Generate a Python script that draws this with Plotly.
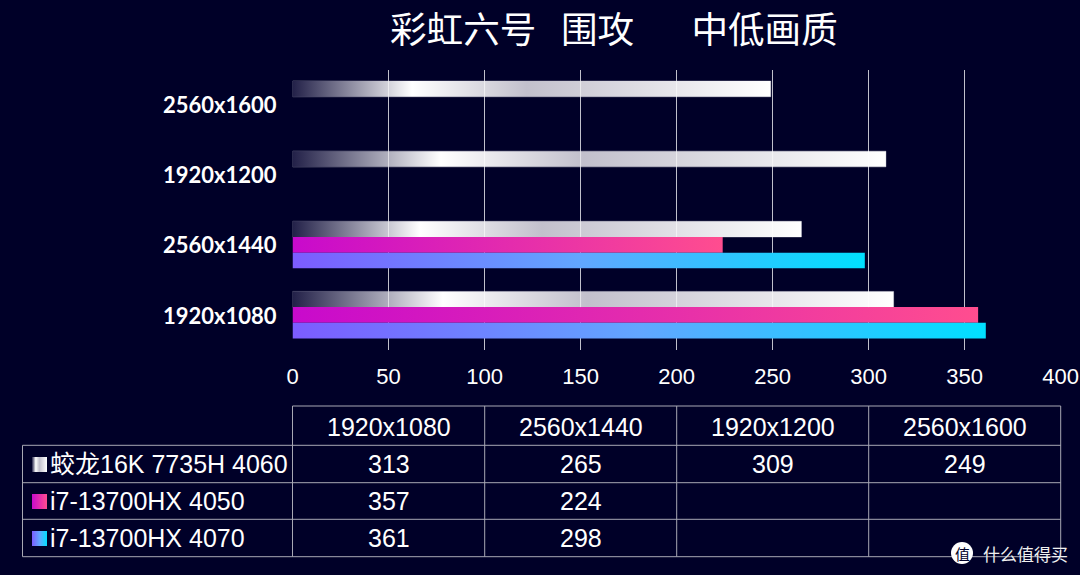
import plotly.graph_objects as go

BG = "#000028"
categories = ["1920x1080", "2560x1440", "1920x1200", "2560x1600"]
series_names = ["蛟龙16K 7735H 4060", "i7-13700HX 4050", "i7-13700HX 4070"]
values_a = [313, 265, 309, 249]
values_b = [357, 224, None, None]
values_c = [361, 298, None, None]
tick_vals = [0, 50, 100, 150, 200, 250, 300, 350, 400]
all_values = [values_a, values_b, values_c]

# gradient stops (fraction of the bar's length, colour)
stops_a = [(0, (34, 32, 72, 1)), (.25, (255, 255, 255, 1)), (.49, (194, 192, 204, 1)), (1, (255, 255, 255, 1))]
stops_b = [(0, (200, 10, 204, 1)), (1, (255, 77, 143, 1))]
stops_c = [(0, (124, 92, 255, 1)), (.5, (98, 166, 255, 1)), (1, (0, 224, 255, 1))]
all_stops = [stops_a, stops_b, stops_c]
SLOT = 0.2235
offsets = [SLOT * .5, -SLOT * .5, -SLOT * 1.5]


def rgba(c):
    return f"rgba({c[0]:.0f},{c[1]:.0f},{c[2]:.0f},{c[3]:.3f})"


def colour(stops, t):
    for (t0, c0), (t1, c1) in zip(stops, stops[1:]):
        if t <= t1:
            f = (t - t0) / (t1 - t0)
            return rgba([c0[i] + (c1[i] - c0[i]) * f for i in range(4)])
    return rgba(stops[-1][1])


fig = go.Figure()
for name, vals, stops, off in zip(series_names, all_values, all_stops, offsets):
    scale = [[t, rgba(c)] for t, c in stops]
    for pos, v in enumerate(vals):
        if v is None:
            continue
        # gradient body of the bar: a filled area spanning 0..value
        fig.add_trace(go.Scatter(x=[0, v, v, 0, 0],
                                 y=[pos + off, pos + off, pos + off + SLOT, pos + off + SLOT, pos + off],
                                 mode="lines", line=dict(width=0), fill="toself",
                                 fillgradient=dict(type="horizontal", colorscale=scale),
                                 showlegend=False, hoverinfo="skip"))
    # the value bar itself, as a thin outline over the gradient
    fig.add_trace(go.Bar(y=list(range(len(categories))), x=vals, orientation="h", offset=off, width=SLOT, name=name,
                         marker=dict(color="rgba(0,0,0,0)",
                                     line=dict(width=1, color="rgba(200,200,215,.45)" if stops is stops_a else "rgba(0,0,0,0)")),
                         showlegend=False))

TEXT = "Liberation Sans, Arial, sans-serif"
CJK = "Noto Sans CJK SC"
W, H = 1080, 575
fig.update_layout(
    width=W, height=H, autosize=False, margin=dict(l=0, r=0, t=0, b=0, pad=0, autoexpand=False),
    paper_bgcolor=BG, plot_bgcolor=BG, barmode="overlay", showlegend=False,
    xaxis=dict(domain=[292.5 / W, 1060.7 / W], range=[0, 400], tickvals=tick_vals, showgrid=True,
               gridcolor="#c0c0cc", gridwidth=1, zeroline=False, showline=False, ticks="",
               tickfont=dict(family=TEXT, size=22, color="#ffffff"), ticklabelstandoff=11),
    yaxis=dict(domain=[1 - 350 / H, 1 - 69.5 / H], range=[-.5, 3.5], tickmode="array",
               tickvals=[i - .014 for i in range(len(categories))], ticktext=categories, showgrid=False, zeroline=False,
               showline=False, ticks="", ticklabelstandoff=15,
               tickfont=dict(family="Lato, Liberation Sans, sans-serif", size=22, color="#ffffff", weight="bold")),
)

LINE = "#a8a8b4"
shapes, ann = [], []


def px(x):
    return x / W


def py(y):
    return 1 - y / H


def hline(x0, x1, y):
    shapes.append(dict(type="line", xref="paper", yref="paper", x0=px(x0), x1=px(x1), y0=py(y), y1=py(y),
                       line=dict(color=LINE, width=1)))


def vline(x, y0, y1):
    shapes.append(dict(type="line", xref="paper", yref="paper", x0=px(x), x1=px(x), y0=py(y0), y1=py(y1),
                       line=dict(color=LINE, width=1)))


def text(x, y, s, size=25, anchor="center", family=TEXT, color="#ffffff"):
    ann.append(dict(xref="paper", yref="paper", x=px(x), y=py(y), text=s, showarrow=False, xanchor=anchor,
                    yanchor="middle", font=dict(family=family, size=size, color=color)))


# gridlines show faintly through the pale bars
for pos, v in enumerate(values_a):
    for t in tick_vals:
        if 0 < t < v:
            shapes.append(dict(type="line", xref="x", yref="y", x0=t, x1=t, y0=pos + offsets[0], y1=pos + offsets[0] + SLOT,
                               line=dict(color="rgba(255,255,255,.6)", width=1)))

col_x = [292.5, 484.7, 676.7, 868.7, 1060.7]
row_y = [406, 445.3, 482.7, 519.3, 556.7]
hline(col_x[0], col_x[-1], row_y[0])
for y in row_y[1:]:
    hline(22.5, col_x[-1], y)
vline(22.5, row_y[1], row_y[-1])
for x in col_x:
    vline(x, row_y[0], row_y[-1])

for i, cat in enumerate(categories):
    cx = (col_x[i] + col_x[i + 1]) / 2
    text(cx, (row_y[0] + row_y[1]) / 2 + 1, cat)
    for r, vals in enumerate(all_values):
        if vals[i] is not None:
            text(cx, (row_y[r + 1] + row_y[r + 2]) / 2, str(vals[i]))

# legend keys inside the table
for r, (name, stops) in enumerate(zip(series_names, all_stops)):
    ymid = (row_y[r + 1] + row_y[r + 2]) / 2
    for k in range(15):
        shapes.append(dict(type="rect", xref="paper", yref="paper", x0=px(32 + k), x1=px(33 + k),
                           y0=py(ymid - 7), y1=py(ymid + 8), line=dict(width=0),
                           fillcolor=colour(stops, (k + .5) / 15)))
    text(48, ymid, name, anchor="left", family="Liberation Sans, Noto Sans CJK SC")

# title
text(614, 28, "彩虹六号&nbsp;&nbsp;&nbsp;围攻&nbsp;&nbsp;&nbsp;&nbsp;&nbsp;&nbsp;&nbsp;中低画质", size=36.6, family=CJK)

# watermark
shapes.append(dict(type="circle", xref="paper", yref="paper", x0=px(951), x1=px(973), y0=py(564), y1=py(542),
                   fillcolor="#ffffff", line=dict(width=0)))
text(962, 553, "值", size=15, family=CJK, color="#000028")
text(1025, 553, "什么值得买", size=17, family=CJK, color="#f0f0f0")

fig.update_layout(shapes=shapes, annotations=ann)
fig.write_html("out.html", config={"displayModeBar": False},
               post_script="document.body.style.margin='0';document.documentElement.style.overflow='hidden';")
